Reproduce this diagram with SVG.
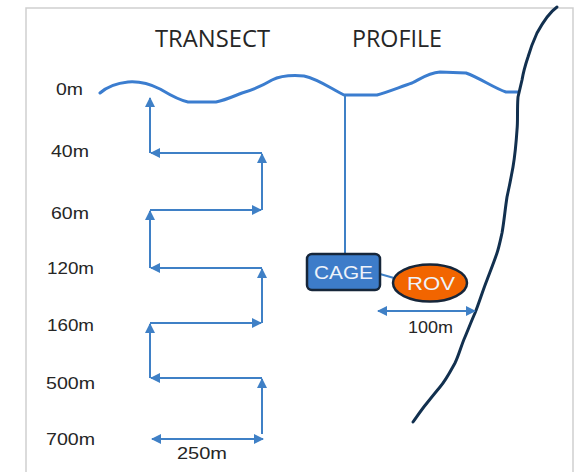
<svg xmlns="http://www.w3.org/2000/svg" width="579" height="472" viewBox="0 0 579 472">
<style>
.lbl{font-family:"Liberation Sans",Arial,sans-serif;font-size:17px;fill:#262626}
.ttl{font-family:"Open Sans","Liberation Sans",sans-serif;font-size:23px;fill:#262626}
.arr{stroke:#3f80c6;stroke-width:2;fill:none}
.nodetxt{font-family:"Liberation Sans",Arial,sans-serif;font-size:19px;fill:#eef3fa;text-anchor:middle}
</style>
<defs>
<marker id="ah" viewBox="0 0 10 10" refX="9" refY="5" markerWidth="10" markerHeight="10" markerUnits="userSpaceOnUse" orient="auto-start-reverse">
<path d="M0,0 L10,5 L0,10 Z" fill="#3f80c6"/>
</marker>
</defs>
<rect width="579" height="472" fill="#ffffff"/>
<g id="frame">
<path d="M26,472 V8 H573 V472" fill="none" stroke="#cfcfcf" stroke-width="1.5"/>
</g>
<g id="titles">
<text class="ttl" x="155" y="47" textLength="115" lengthAdjust="spacingAndGlyphs">TRANSECT</text>
<text class="ttl" x="352" y="47" textLength="90" lengthAdjust="spacingAndGlyphs">PROFILE</text>
</g>
<g id="depth-labels">
<text class="lbl" x="56" y="95" textLength="27" lengthAdjust="spacingAndGlyphs">0m</text>
<text class="lbl" x="51" y="157" textLength="38" lengthAdjust="spacingAndGlyphs">40m</text>
<text class="lbl" x="51" y="219" textLength="38" lengthAdjust="spacingAndGlyphs">60m</text>
<text class="lbl" x="47" y="274" textLength="47" lengthAdjust="spacingAndGlyphs">120m</text>
<text class="lbl" x="47" y="331" textLength="47" lengthAdjust="spacingAndGlyphs">160m</text>
<text class="lbl" x="46" y="389" textLength="49" lengthAdjust="spacingAndGlyphs">500m</text>
<text class="lbl" x="46" y="445" textLength="49" lengthAdjust="spacingAndGlyphs">700m</text>
</g>
<g id="surface">
<path d="M100,93 C108,86 118,83 128,82 C140,81 150,84 160,89 C170,95 178,100 188,102 L216,102 C226,100 234,96 242,93 C252,90 262,86 272,80 C282,75 292,75 304,76 C318,79 330,88 344,95 L377,95 C388,92 400,87 412,83 C422,78 428,73 440,72 L466,73 C480,78 494,88 506,92 L518,92" fill="none" stroke="#3b7dcf" stroke-width="3" stroke-linecap="round" stroke-linejoin="round"/>
</g>
<g id="cliff">
<path d="M557,7 C550,12 543,22 537,33 C532,44 530,50 528,57 C525,66 523,74 522,80 L518,97 C517,110 518,120 517,130 C516,145 515,155 513,167 C511,178 509,188 507,197 C505,210 504,222 502,233 C500,242 499,247 497,253 C494,262 490,272 487,280 C483,290 479,303 475,313 C471,322 468,330 465,337 C461,346 459,355 455,363 C450,372 446,380 440,387 C435,393 431,398 427,403 C422,409 418,415 413,422" fill="none" stroke="#12304f" stroke-width="3" stroke-linecap="round" stroke-linejoin="round"/>
</g>
<g id="connectors">
<line class="arr" x1="150" y1="153" x2="150" y2="98" marker-end="url(#ah)"/>
<line class="arr" x1="262" y1="153" x2="151" y2="153" marker-end="url(#ah)"/>
<line class="arr" x1="262" y1="210" x2="262" y2="154" marker-end="url(#ah)"/>
<line class="arr" x1="150" y1="210" x2="261" y2="210" marker-end="url(#ah)"/>
<line class="arr" x1="150" y1="268" x2="150" y2="211" marker-end="url(#ah)"/>
<line class="arr" x1="262" y1="268" x2="151" y2="268" marker-end="url(#ah)"/>
<line class="arr" x1="262" y1="323" x2="262" y2="269" marker-end="url(#ah)"/>
<line class="arr" x1="150" y1="323" x2="261" y2="323" marker-end="url(#ah)"/>
<line class="arr" x1="150" y1="378" x2="150" y2="324" marker-end="url(#ah)"/>
<line class="arr" x1="262" y1="378" x2="151" y2="378" marker-end="url(#ah)"/>
<line class="arr" x1="262" y1="434" x2="262" y2="379" marker-end="url(#ah)"/>
<line class="arr" x1="152" y1="439" x2="263" y2="439" marker-start="url(#ah)" marker-end="url(#ah)"/>
<line class="arr" x1="378" y1="311" x2="475" y2="311" marker-start="url(#ah)" marker-end="url(#ah)"/>
<line class="arr" x1="345" y1="95" x2="345" y2="254"/>
<line class="arr" x1="380" y1="274" x2="394" y2="278"/>
</g>
<g id="span-labels">
<text class="lbl" x="177" y="459" textLength="50" lengthAdjust="spacingAndGlyphs">250m</text>
<text class="lbl" x="408" y="333" textLength="45" lengthAdjust="spacingAndGlyphs">100m</text>
</g>
<g id="cage">
<rect x="307" y="254" width="73" height="36" rx="5" fill="#3d7cc9" stroke="#16263a" stroke-width="2.5"/>
<text class="nodetxt" x="343.5" y="279" textLength="59" lengthAdjust="spacingAndGlyphs">CAGE</text>
</g>
<g id="rov">
<ellipse cx="430" cy="283" rx="37" ry="18.5" fill="#f26500" stroke="#16263a" stroke-width="2.5"/>
<text class="nodetxt" x="431" y="290" textLength="48" lengthAdjust="spacingAndGlyphs">ROV</text>
</g>
</svg>
